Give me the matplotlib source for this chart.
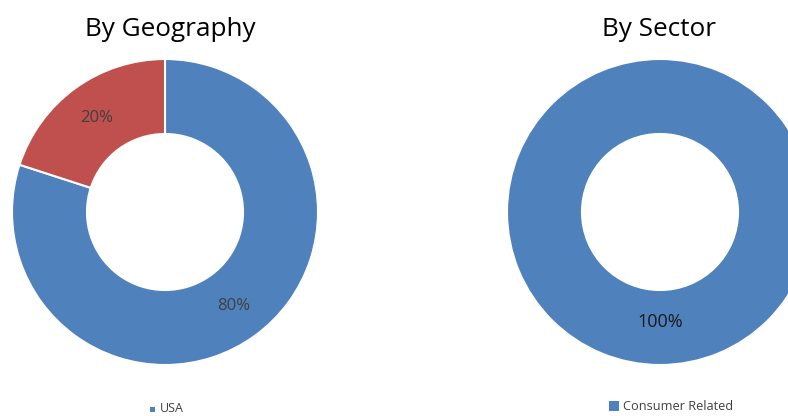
import matplotlib
matplotlib.use("Agg")
import matplotlib.pyplot as plt
from matplotlib.patches import Rectangle

plt.rcParams['font.family'] = ['Open Sans', 'DejaVu Sans']

geo_labels = ["USA", "Other"]
geo_values = [80, 20]
geo_colors = ["#4F81BD", "#C0504D"]

sector_labels = ["Consumer Related"]
sector_values = [100]
sector_colors = ["#4F81BD"]

W, H = 788, 416
fig = plt.figure(figsize=(W / 100, H / 100), dpi=100)

def donut(cx, cy, r, values, colors, label_color, dist, fs):
    ax = fig.add_axes([(cx - r) / W, (H - cy - r) / H, 2 * r / W, 2 * r / H])
    wedges, texts = ax.pie(values, colors=colors, startangle=90, counterclock=False,
                           radius=1.0, wedgeprops=dict(width=0.49, edgecolor='white', linewidth=1.5),
                           labels=[f"{v}%" for v in values], labeldistance=dist,
                           textprops=dict(fontsize=fs, color=label_color))
    for t in texts:
        t.set_ha('center'); t.set_va('center')
    ax.set_xlim(-1, 1); ax.set_ylim(-1, 1)
    ax.set_aspect('equal')
    ax.axis('off')
    return ax

donut(165, 212, 153, geo_values, geo_colors, '#404040', 0.76, 12)
donut(660, 212, 153, sector_values, sector_colors, '#1a1a1a', 0.72, 13)

fig.text(170 / W, 1 - 30 / H, "By Geography", ha='center', va='center', fontsize=18.8, color='#000000')
fig.text(659 / W, 1 - 30 / H, "By Sector", ha='center', va='center', fontsize=18.8, color='#000000')

# legends
fig.patches.append(Rectangle((150 / W, 1 - 412 / H), 5 / W, 5 / H, transform=fig.transFigure,
                             facecolor=geo_colors[0], edgecolor='none'))
fig.text(160 / W, 1 - 409 / H, geo_labels[0], ha='left', va='center', fontsize=9, color='#404040')

fig.patches.append(Rectangle((609 / W, 1 - 411 / H), 10 / W, 10 / H, transform=fig.transFigure,
                             facecolor=sector_colors[0], edgecolor='none'))
fig.text(623 / W, 1 - 406 / H, sector_labels[0], ha='left', va='center', fontsize=9.2, color='#404040')

fig.savefig("out.png", dpi=100, facecolor='white')
